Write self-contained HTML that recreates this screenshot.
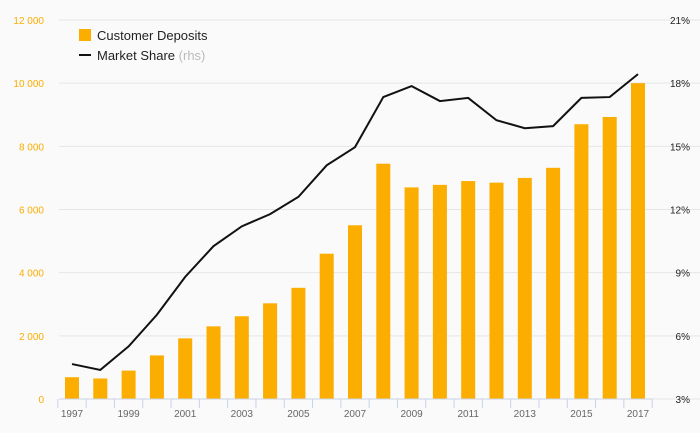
<!DOCTYPE html>
<html><head><meta charset="utf-8"><style>
body{margin:0;background:#fafafa;font-family:"Liberation Sans",sans-serif}
svg{display:block}
</style></head><body>
<svg id="c" width="700" height="433">
<rect width="700" height="433" fill="#fafafa"/>
<g id="grid"></g><g id="bars"></g><g id="axes"></g>
<path id="line" fill="none" stroke="#111" stroke-width="2"/>
<g>
<rect x="79" y="29" width="12" height="12" fill="#fbad00"/>
<text x="97" y="40" font-size="13" fill="#222">Customer Deposits</text>
<rect x="79" y="54" width="12" height="2" fill="#111"/>
<text x="97" y="60" font-size="13" fill="#222">Market Share <tspan fill="#bbb">(rhs)</tspan></text>
</g>
</svg>
<script>
const years=[1997,1998,1999,2000,2001,2002,2003,2004,2005,2006,2007,2008,2009,2010,2011,2012,2013,2014,2015,2016,2017];
const deposits=[690,650,900,1380,1920,2300,2620,3030,3520,4600,5500,7450,6700,6780,6900,6850,7000,7320,8700,8930,10000];
const share=[4.66,4.38,5.5,7.0,8.8,10.26,11.2,11.78,12.6,14.1,14.96,17.34,17.86,17.15,17.3,16.24,15.86,15.96,17.3,17.34,18.43];
const leftTicks=[0,2000,4000,6000,8000,10000,12000];
const leftLabels=["0","2 000","4 000","6 000","8 000","10 000","12 000"];
const rightTicks=[3,6,9,12,15,18,21];
const rightLabels=["3%","6%","9%","12%","15%","18%","21%"];
const NS="http://www.w3.org/2000/svg";
const y0=399,y1=20,xs=72,step=28.3;
const yL=v=>y0-(v/12000)*(y0-y1);
const yR=v=>y0-((v-3)/18)*(y0-y1);
const x=i=>xs+i*step;
function mk(t,a,p){const e=document.createElementNS(NS,t);for(const k in a)e.setAttribute(k,a[k]);p.appendChild(e);return e;}
const grid=document.getElementById('grid'),bars=document.getElementById('bars'),axes=document.getElementById('axes');
leftTicks.forEach((v,i)=>{
 const g=mk('line',{x1:59,x2:700,y1:yL(v),y2:yL(v),stroke:'#e6e6e6','stroke-width':1},grid);
 
 
 const t=mk('text',{x:44,y:yL(v)+4,'text-anchor':'end','font-size':10,fill:'#fbad00'},axes);
 t.textContent=leftLabels[i];
 
 
});
rightTicks.forEach((v,i)=>{
 const t=mk('text',{x:690,y:yR(v)+4,'text-anchor':'end','font-size':10,fill:'#222'},axes);
 t.textContent=rightLabels[i];
 
 
});
deposits.forEach((v,i)=>{
 const r=mk('rect',{x:x(i)-7,y:yL(v),width:14,height:y0-yL(v),fill:'#fbad00'},bars);
 
 
});
const ax=mk('line',{x1:59,x2:652,y1:399,y2:399,stroke:'#c8d3e8','stroke-width':1},axes);


for(let i=0;i<=years.length;i++){
 const tx=x(i)-step/2;
 const tk=mk('line',{x1:tx,x2:tx,y1:399,y2:408,stroke:'#c8d3e8'},axes);
 
 
}
years.forEach((yr,i)=>{
 if(i%2)return;
 const t=mk('text',{x:x(i),y:417,'text-anchor':'middle','font-size':10,fill:'#666'},axes);
 t.textContent=yr;
 
 
});
document.getElementById('line').setAttribute('d',share.map((v,i)=>(i?'L':'M')+x(i)+','+yR(v)).join(''));
</script>
</body></html>
